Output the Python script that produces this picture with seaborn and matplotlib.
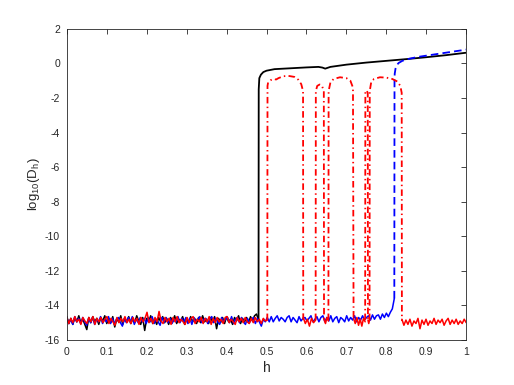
import numpy as np
import pandas as pd
import matplotlib
matplotlib.use("Agg")
import matplotlib.pyplot as plt
import seaborn as sns

# ---------------- data ----------------
# black: noisy floor 0 .. 0.48, then the upper branch
black_noise = [
    -14.65, -15.05, -14.75, -15.1, -14.7, -14.95, -14.6, -15.0, -14.8, -15.1,
    -15.4, -14.7, -15.0, -14.65, -14.95, -14.75, -15.1, -14.7, -14.9, -14.6,
    -15.05, -14.75, -15.0, -14.65, -15.25, -14.8, -14.95, -14.6, -15.1, -14.75,
    -14.95, -14.65, -15.05, -14.8, -15.0, -14.6, -14.9, -15.1, -14.7, -15.45,
    -14.75, -14.95, -14.6, -15.05, -14.8, -15.1, -14.7, -14.95, -14.65, -15.0,
    -14.75, -15.1, -14.7, -14.95, -14.6, -15.05, -14.8, -14.9, -14.65, -15.1,
    -14.8, -15.0, -14.65, -14.95, -14.75, -15.05, -14.7, -15.0, -14.6, -14.95,
    -14.8, -15.05, -14.7, -14.95, -14.65, -15.35, -14.75, -15.0, -14.7, -15.05,
    -14.65, -14.95, -14.8, -15.1, -14.7, -14.9, -14.6, -15.05, -14.75, -14.95,
    -14.7, -15.0, -14.65, -14.9, -14.6, -14.5, -14.85,
]
black_noise_range = (0.0, 0.48)
black_curve_h = [0.48, 0.4805, 0.482, 0.486, 0.492, 0.50, 0.52, 0.56, 0.60,
                 0.63, 0.64, 0.647, 0.66, 0.70, 0.75, 0.80, 0.85, 0.90, 0.95, 1.0]
black_curve_y = [-14.85, -1.5, -0.85, -0.65, -0.5, -0.42, -0.33, -0.28, -0.23,
                 -0.2, -0.24, -0.3, -0.2, -0.07, 0.05, 0.15, 0.25, 0.36, 0.48, 0.62]

# blue: noisy floor 0 .. 0.82, then the dashed upper branch
blue_noise = [
    -14.7, -15.05, -14.8, -15.1, -14.65, -14.95, -14.75, -15.05, -14.7, -14.95,
    -15.15, -14.75, -15.0, -14.7, -15.1, -14.8, -14.95, -14.65, -15.05, -14.8,
    -14.95, -14.65, -15.05, -14.75, -15.1, -14.8, -14.7, -15.0, -15.2, -14.75,
    -15.0, -14.7, -14.95, -14.65, -15.1, -14.8, -15.0, -14.7, -14.95, -14.75,
    -15.05, -14.7, -14.95, -14.65, -15.05, -14.8, -14.95, -15.15, -14.7, -15.0,
    -14.7, -15.0, -14.75, -15.05, -14.8, -14.95, -14.65, -15.0, -14.75, -14.95,
    -14.7, -15.05, -14.75, -15.1, -14.7, -14.95, -14.8, -14.65, -15.0, -14.8,
    -14.75, -15.05, -14.8, -14.65, -15.0, -14.75, -14.95, -15.1, -14.7, -14.95,
    -14.8, -14.7, -15.0, -14.65, -15.05, -14.8, -14.7, -15.0, -14.7, -14.95,
    -15.1, -14.75, -15.0, -14.8, -14.7, -15.05, -14.75, -14.95, -15.2, -14.8,
    -14.95, -14.7, -14.95, -14.65, -14.95, -14.75, -14.6, -14.9, -14.7, -14.8,
    -14.95, -14.7, -14.6, -14.95, -14.7, -14.85, -15.0, -14.65, -14.9, -14.75,
    -14.7, -14.9, -14.75, -14.6, -14.95, -14.8, -14.65, -14.95, -14.7, -14.6,
    -14.95, -14.7, -14.9, -14.6, -14.95, -14.75, -14.65, -15.0, -14.7, -14.8,
    -14.95, -14.6, -14.9, -14.7, -14.85, -14.6, -14.95, -14.7, -14.85, -14.6,
    -14.85, -14.7, -14.6, -14.85, -14.55, -14.8, -14.6, -14.55, -14.8, -14.5,
    -14.7, -14.45, -14.65, -14.4, -14.2, -13.6,
]
blue_noise_range = (0.0, 0.82)
blue_curve_h = [0.82, 0.8205, 0.821, 0.823, 0.826, 0.831, 0.84, 0.855, 0.88,
                0.92, 0.96, 1.0]
blue_curve_y = [-13.6, -1.0, -0.6, -0.3, -0.1, 0.03, 0.15, 0.26, 0.38, 0.52,
                0.66, 0.8]

# red: noisy floor pieces between the arches
red_noise_1 = [
    -14.7, -15.05, -14.75, -15.0, -14.65, -14.95, -14.8, -15.1, -14.7, -14.9,
    -15.05, -14.7, -14.95, -14.65, -15.1, -14.75, -14.95, -14.7, -15.0, -14.8,
    -14.65, -15.05, -14.75, -14.95, -15.15, -14.7, -15.0, -14.75, -14.95, -14.65,
    -15.0, -14.8, -15.05, -14.7, -14.95, -14.75, -15.1, -14.7, -14.95, -14.75,
    -14.4, -15.0, -14.75, -15.05, -14.7, -14.95, -14.35, -14.9, -15.05, -14.7,
    -14.95, -14.75, -15.1, -14.7, -14.95, -14.65, -15.0, -14.8, -14.95, -15.1,
    -14.7, -15.0, -14.75, -14.65, -15.05, -14.8, -14.95, -14.7, -15.05, -14.75,
    -14.95, -14.65, -15.1, -14.75, -15.0, -14.7, -14.95, -14.8, -15.05, -14.7,
    -14.65, -15.0, -14.8, -14.95, -15.1, -14.7, -14.95, -14.75, -15.0, -14.7,
    -14.95, -15.05, -14.75, -15.0, -14.7, -14.95, -14.8, -15.05, -14.75, -14.9,
    -14.85,
]
red_noise_1_range = (0.0, 0.502)
red_noise_2 = [-14.7, -15.05, -14.8, -15.2, -14.75, -15.0, -14.85]
red_noise_2_range = (0.592, 0.623)
red_noise_3 = [-14.8, -15.05, -14.7, -14.9]
red_noise_3_range = (0.644, 0.655)
red_noise_4 = [-14.75, -15.05, -14.7, -15.15, -14.8, -15.2, -14.75, -14.95]
red_noise_4_range = (0.718, 0.747)
red_noise_5 = [-14.85, -15.05, -14.85]
red_noise_5_range = (0.754, 0.758)
red_noise_6 = [
    -14.8, -15.15, -14.85, -15.1, -14.8, -15.2, -14.9, -15.05, -14.75, -15.35,
    -14.85, -15.1, -14.8, -15.15, -14.9, -15.05, -14.75, -15.1, -14.85, -15.0,
    -14.8, -15.15, -14.9, -14.75, -15.1, -14.85, -15.05, -14.8, -15.1, -14.9,
    -15.05, -14.8, -15.0,
]
red_noise_6_range = (0.839, 1.0)

red_arch_1_h = [0.502, 0.5025, 0.504, 0.51, 0.518, 0.524, 0.53, 0.542, 0.555,
                0.57, 0.58, 0.587, 0.5915, 0.592]
red_arch_1_y = [-14.85, -1.3, -1.1, -0.97, -0.9, -0.93, -0.85, -0.74, -0.72,
                -0.78, -0.95, -1.2, -1.6, -14.85]
red_arch_2_h = [0.623, 0.6235, 0.627, 0.633, 0.639, 0.6435, 0.644]
red_arch_2_y = [-14.85, -1.6, -1.3, -1.22, -1.3, -1.6, -14.85]
red_arch_3_h = [0.655, 0.6555, 0.66, 0.668, 0.684, 0.70, 0.71, 0.7165, 0.718]
red_arch_3_y = [-14.85, -1.6, -1.1, -0.9, -0.8, -0.85, -1.0, -1.4, -14.85]
red_arch_4_h = [0.747, 0.7475, 0.7505, 0.7535, 0.754]
red_arch_4_y = [-14.85, -1.7, -1.55, -1.7, -14.85]
red_arch_5_h = [0.758, 0.7585, 0.762, 0.769, 0.784, 0.80, 0.815, 0.828, 0.835,
                0.8385, 0.839]
red_arch_5_y = [-14.85, -1.6, -1.1, -0.9, -0.8, -0.82, -0.9, -1.05, -1.3,
                -1.7, -14.9]

x_ticks = [0, 0.1, 0.2, 0.3, 0.4, 0.5, 0.6, 0.7, 0.8, 0.9, 1]
x_tick_labels = ["0", "0.1", "0.2", "0.3", "0.4", "0.5", "0.6", "0.7", "0.8", "0.9", "1"]
y_ticks = [-16, -14, -12, -10, -8, -6, -4, -2, 0, 2]

# ---------------- style ----------------
sns.set_style("white")
plt.rcParams["font.family"] = ["Liberation Sans", "DejaVu Sans"]
plt.rcParams["mathtext.default"] = "regular"

fig = plt.figure(figsize=(5.14, 3.85), dpi=100)
ax = fig.add_axes([0.130, 0.117, 0.777, 0.808])

LW = 1.1


def draw(h, y, color, dashes=None, lw=LW):
    df = pd.DataFrame({"h": h, "y": y})
    sns.lineplot(data=df, x="h", y="y", ax=ax, color=color, lw=lw,
                 estimator=None, sort=False, legend=False)
    line = ax.lines[-1]
    if dashes is not None:
        line.set_dashes(dashes)
    line.set_solid_joinstyle("round")
    return line


def noise(vals, rng):
    return np.linspace(rng[0], rng[1], len(vals)), vals


# black
hb, yb = noise(black_noise, black_noise_range)
draw(hb, yb, "black")
draw(black_curve_h, black_curve_y, "black", lw=1.3)

# blue
hbl, ybl = noise(blue_noise, blue_noise_range)
draw(hbl, ybl, "#0000ff")
draw(blue_curve_h, blue_curve_y, "#0000ff", dashes=(4.2, 2.3), lw=1.3)

# red
RED = "#ff0000"
DD = (3.6, 1.8, 0.8, 1.8)
for vals, rng in [(red_noise_1, red_noise_1_range), (red_noise_2, red_noise_2_range),
                  (red_noise_3, red_noise_3_range), (red_noise_4, red_noise_4_range),
                  (red_noise_5, red_noise_5_range), (red_noise_6, red_noise_6_range)]:
    hr, yr = noise(vals, rng)
    draw(hr, yr, RED)
for hh, yy in [(red_arch_1_h, red_arch_1_y), (red_arch_2_h, red_arch_2_y),
               (red_arch_3_h, red_arch_3_y), (red_arch_4_h, red_arch_4_y),
               (red_arch_5_h, red_arch_5_y)]:
    draw(hh, yy, RED, dashes=DD, lw=1.3)

ax.set_xlim(0, 1)
ax.set_ylim(-16, 2)
ax.set_xticks(x_ticks)
ax.set_xticklabels(x_tick_labels)
ax.set_yticks(y_ticks)
ax.set_yticklabels([str(v) for v in y_ticks])

axis_col = "#262626"
for s in ax.spines.values():
    s.set_visible(True)
    s.set_color(axis_col)
    s.set_linewidth(0.6)
ax.tick_params(direction="in", top=True, right=True, length=3.5, width=0.6,
               colors=axis_col, labelsize=7.5, pad=5)
ax.set_xlabel("h", fontsize=10, color=axis_col, labelpad=3)
ax.set_ylabel("log$_{10}$(D$_h$)", fontsize=9.5, color=axis_col, labelpad=2)

fig.savefig("out.png", dpi=100)
